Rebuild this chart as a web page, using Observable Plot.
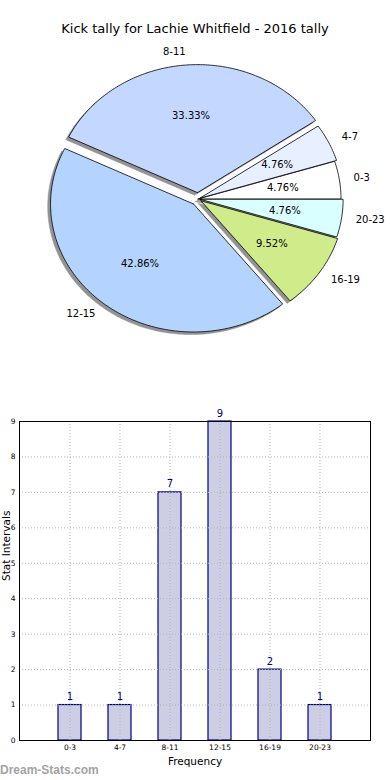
<!DOCTYPE html>
<html>
<head>
<meta charset="utf-8">
<script src="https://cdn.jsdelivr.net/npm/d3@7"></script>
<script src="https://cdn.jsdelivr.net/npm/@observablehq/plot@0.6"></script>
<style>
  body { margin: 0; background: #fff; font-family: "DejaVu Sans", sans-serif; }
  #wrap { position: relative; width: 390px; height: 780px; overflow: hidden; }
  #title { position: absolute; left: 0; width: 390px; top: 21px; text-align: center; font-size: 13px; color: #000; }
  #pie { position: absolute; left: 0; top: 0; }
  #bar { position: absolute; left: 0; top: 400px; }
  #mark { position: absolute; left: 0; top: 763px; font-family: "Liberation Sans", Arial, sans-serif; font-weight: bold; font-size: 12px; color: #a3a3a3; }
</style>
</head>
<body>
<div id="wrap">
  <div id="pie"></div>
  <div id="title">Kick tally for Lachie Whitfield - 2016 tally</div>
  <div id="bar"></div>
  <div id="mark">Dream-Stats.com</div>
</div>
<script>
// ---- data ----
const categories = ["0-3", "4-7", "8-11", "12-15", "16-19", "20-23"];
const counts = [1, 1, 7, 9, 2, 1];
const pieColors = ["#ffffff", "#e8efff", "#c4d8ff", "#b4d4ff", "#d0ec8a", "#d9ffff"];
const explode = [0, 0.015, 0.05, 0.05, 0.025, 0.015];
const yTicks = [0, 1, 2, 3, 4, 5, 6, 7, 8, 9];

const font = "DejaVu Sans";

// ---- pie geometry (unit ellipse, matplotlib-style, counterclockwise from east) ----
const total = d3.sum(counts);
const shadowPts = [];
const slicePts = [];
const labels = [];
const pcts = [];
let acc = 0;
categories.forEach((c, i) => {
  const a0 = acc / total * 2 * Math.PI;
  acc += counts[i];
  const a1 = acc / total * 2 * Math.PI;
  const am = (a0 + a1) / 2;
  const ox = explode[i] * Math.cos(am), oy = explode[i] * Math.sin(am);
  const pts = [[ox, oy]];
  const n = Math.max(2, Math.ceil((a1 - a0) / (Math.PI / 180)));
  for (let k = 0; k <= n; k++) {
    const a = a0 + (a1 - a0) * k / n;
    pts.push([ox + Math.cos(a), oy + Math.sin(a)]);
  }
  pts.push([ox, oy]);
  pts.forEach(([x, y]) => {
    slicePts.push({cat: c, x, y});
    shadowPts.push({cat: c, x: x - 0.02, y: y - 0.02});
  });
  const lx = ox + 1.1 * Math.cos(am), ly = oy + 1.1 * Math.sin(am);
  labels.push({text: c, x: lx, y: ly, anchor: lx > 0 ? "start" : "end"});
  pcts.push({text: (counts[i] / total * 100).toFixed(2) + "%", x: ox + 0.6 * Math.cos(am), y: oy + 0.6 * Math.sin(am)});
});

const pie = Plot.plot({
  width: 390,
  height: 380,
  margin: 0,
  style: {fontFamily: font, background: "transparent"},
  x: {domain: [-1, 1], range: [54.5, 340.5], axis: null},
  y: {domain: [-1, 1], range: [326.5, 70.5], axis: null},
  color: {domain: categories, range: pieColors},
  marks: [
    Plot.line(shadowPts, {x: "x", y: "y", z: "cat", fill: "#939393", stroke: "#939393", strokeWidth: 0.5, curve: "linear"}),
    Plot.line(slicePts, {x: "x", y: "y", z: "cat", fill: "cat", stroke: "#000", strokeWidth: 0.8, curve: "linear"}),
    Plot.text(pcts, {x: "x", y: "y", text: "text", fontSize: 10, fill: "#000"}),
    Plot.text(labels.filter(d => d.anchor === "start"), {x: "x", y: "y", text: "text", fontSize: 10, fill: "#000", textAnchor: "start"}),
    Plot.text(labels.filter(d => d.anchor === "end"), {x: "x", y: "y", text: "text", fontSize: 10, fill: "#000", textAnchor: "end"})
  ]
});
document.getElementById("pie").appendChild(pie);

// ---- bar chart ----
const barData = categories.map((c, i) => ({cat: c, value: counts[i]}));

const bar = Plot.plot({
  width: 390,
  height: 380,
  marginTop: 21,
  marginBottom: 40,
  marginLeft: 19,
  marginRight: 20,
  style: {fontFamily: font, fontSize: "7.5px", background: "transparent", color: "#000"},
  x: {type: "band", domain: categories, paddingInner: 0.54, paddingOuter: 0.77, tickSize: 0, tickPadding: 4, label: null},
  y: {domain: [0, 9], ticks: yTicks, tickSize: 0, tickPadding: 4, label: null, tickFormat: d => d},
  marks: [
    Plot.barY(barData, {x: "cat", y: "value", fill: "#cdcde3", stroke: "#00007f", strokeWidth: 1.2}),
    Plot.ruleY(yTicks, {y: d => d, stroke: "#b4b4b4", strokeDasharray: "1,2"}),
    Plot.ruleX(categories, {x: d => d, stroke: "#b4b4b4", strokeDasharray: "1,2"}),
    Plot.frame({stroke: "#000", strokeWidth: 1}),
    Plot.text(barData, {x: "cat", y: "value", text: d => String(d.value), dy: -5, lineAnchor: "bottom", fontSize: 10, fill: "#00007f"}),
    Plot.text(["Frequency"], {frameAnchor: "bottom", dy: 24, text: d => d, fontSize: 10.5, fill: "#000"}),
    Plot.text(["Stat Intervals"], {frameAnchor: "left", dx: -13, rotate: -90, text: d => d, fontSize: 10.5, fill: "#000"})
  ]
});
document.getElementById("bar").appendChild(bar);
</script>
</body>
</html>
